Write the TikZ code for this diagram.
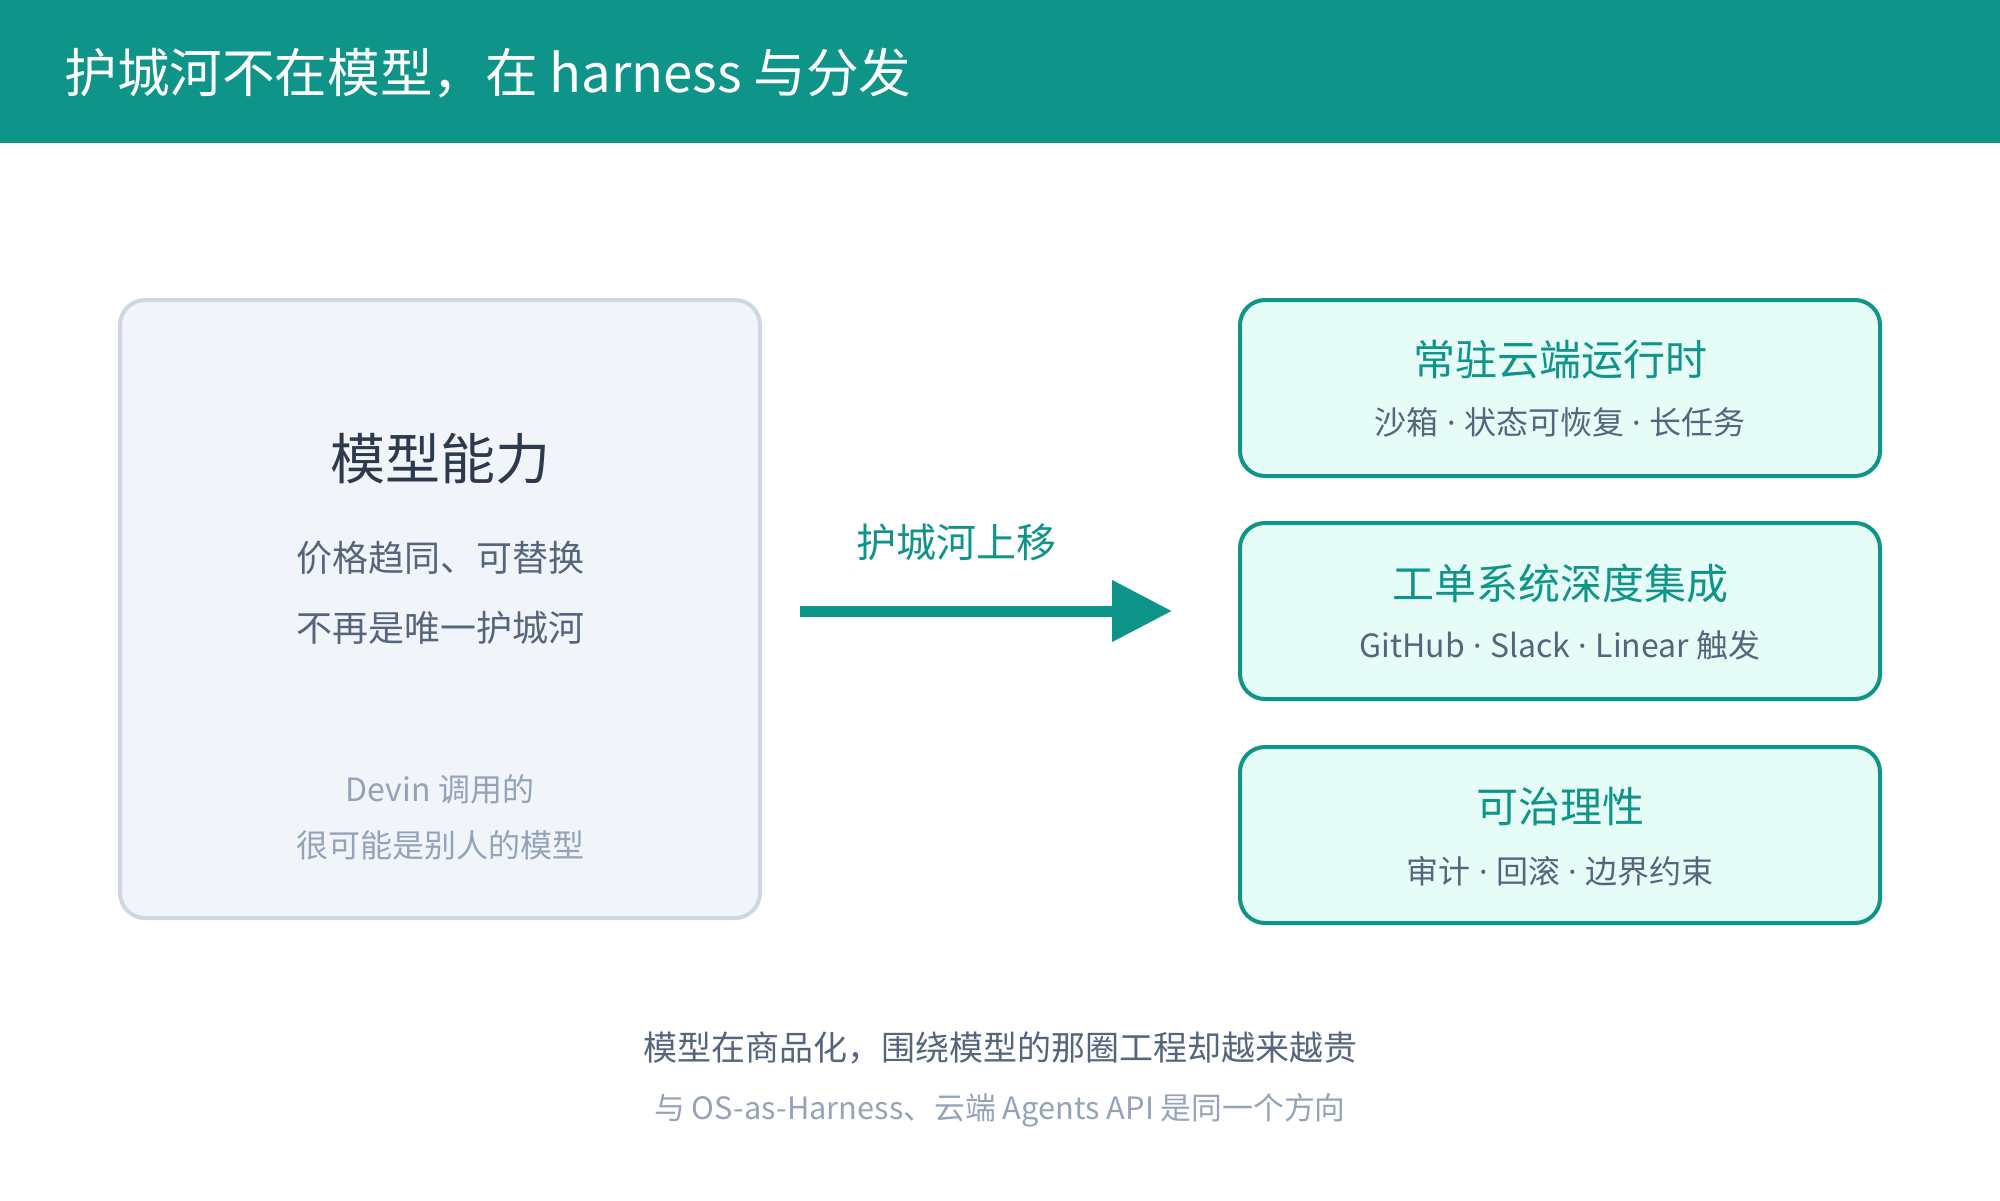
\documentclass[tikz,border=0pt]{standalone}
\usepackage{fontspec}
\setmainfont{Noto Sans CJK SC}
\newfontfamily\latinfont{Noto Sans}
\usetikzlibrary{arrows.meta}

\definecolor{moat}{HTML}{0E9488}
\definecolor{mintfill}{HTML}{E6FCF7}
\definecolor{slatefill}{HTML}{F1F4F9}
\definecolor{slateline}{HTML}{CDD6E2}
\definecolor{inkdark}{HTML}{2D3A4E}
\definecolor{inkmid}{HTML}{56657E}
\definecolor{inklight}{HTML}{94A3B8}

\newcommand{\fs}[1]{\fontsize{#1}{#1}\selectfont}
\newcommand{\sepdot}{{\latinfont\ ·\ }}

\tikzset{
    modelbox/.style={rectangle, rounded corners=12.5pt, draw=slateline, fill=slatefill, line width=2pt, minimum width=320pt, minimum height=309pt},
    layerbox/.style={rectangle, rounded corners=12.5pt, draw=moat, fill=mintfill, line width=2pt, minimum width=320pt, minimum height=88pt},
    layertitle/.style={font=\fs{21pt}, text=moat},
    layersub/.style={font=\fs{16pt}, text=inkmid},
}

\begin{document}
\begin{tikzpicture}[x=0.5pt, y=-0.5pt]
    \useasboundingbox (0, 0) rectangle (2000, 1200);
    \fill[moat] (0, 0) rectangle (2000, 143);
    \node (title) [anchor=west, inner sep=0pt, text=white, font=\fs{26.3pt}] at (64, 73) {护城河不在模型，在 harness 与分发};

    % left: the model itself
    \node (model) [modelbox] at (440, 609) {};
    \node (modelname) [font=\fs{27.5pt}, text=inkdark] at (440, 459) {模型能力};
    \node (modelline1) [font=\fs{18pt}, text=inkmid] at (440, 558) {价格趋同、可替换};
    \node (modelline2) [font=\fs{18pt}, text=inkmid] at (440, 628) {不再是唯一护城河};
    \node (modelnote1) [font=\fs{16pt}, text=inklight] at (440, 789) {Devin 调用的};
    \node (modelnote2) [font=\fs{16pt}, text=inklight] at (440, 845) {很可能是别人的模型};

    % middle: the shift
    \coordinate (shiftfrom) at (800, 611);
    \coordinate (shiftto) at (1172, 611);
    \node (shiftlabel) [font=\fs{20pt}, text=moat] at (956, 542) {护城河上移};
    \draw[moat, line width=5.5pt, -{Triangle[length=30pt, width=29.5pt]}] (shiftfrom) -- (shiftto);

    % right: harness and distribution
    \node (runtime) [layerbox] at (1560, 388) {};
    \node (runtimetitle) [layertitle] at (1560, 360) {常驻云端运行时};
    \node (runtimesub) [layersub] at (1560, 422) {沙箱\sepdot 状态可恢复\sepdot 长任务};

    \node (tickets) [layerbox] at (1560, 611) {};
    \node (ticketstitle) [layertitle] at (1560, 584) {工单系统深度集成};
    \node (ticketssub) [layersub] at (1560, 645) {GitHub\sepdot Slack\sepdot Linear 触发};

    \node (govern) [layerbox] at (1560, 835) {};
    \node (governtitle) [layertitle] at (1560, 807) {可治理性};
    \node (governsub) [layersub] at (1560, 871) {审计\sepdot 回滚\sepdot 边界约束};

    % footer
    \node (summary) [font=\fs{17pt}, text=inkmid] at (1000, 1048) {模型在商品化，围绕模型的那圈工程却越来越贵};
    \node (related) [font=\fs{15.4pt}, text=inklight] at (1000, 1110) {与 OS-as-Harness、云端 Agents API 是同一个方向};
\end{tikzpicture}
\end{document}
